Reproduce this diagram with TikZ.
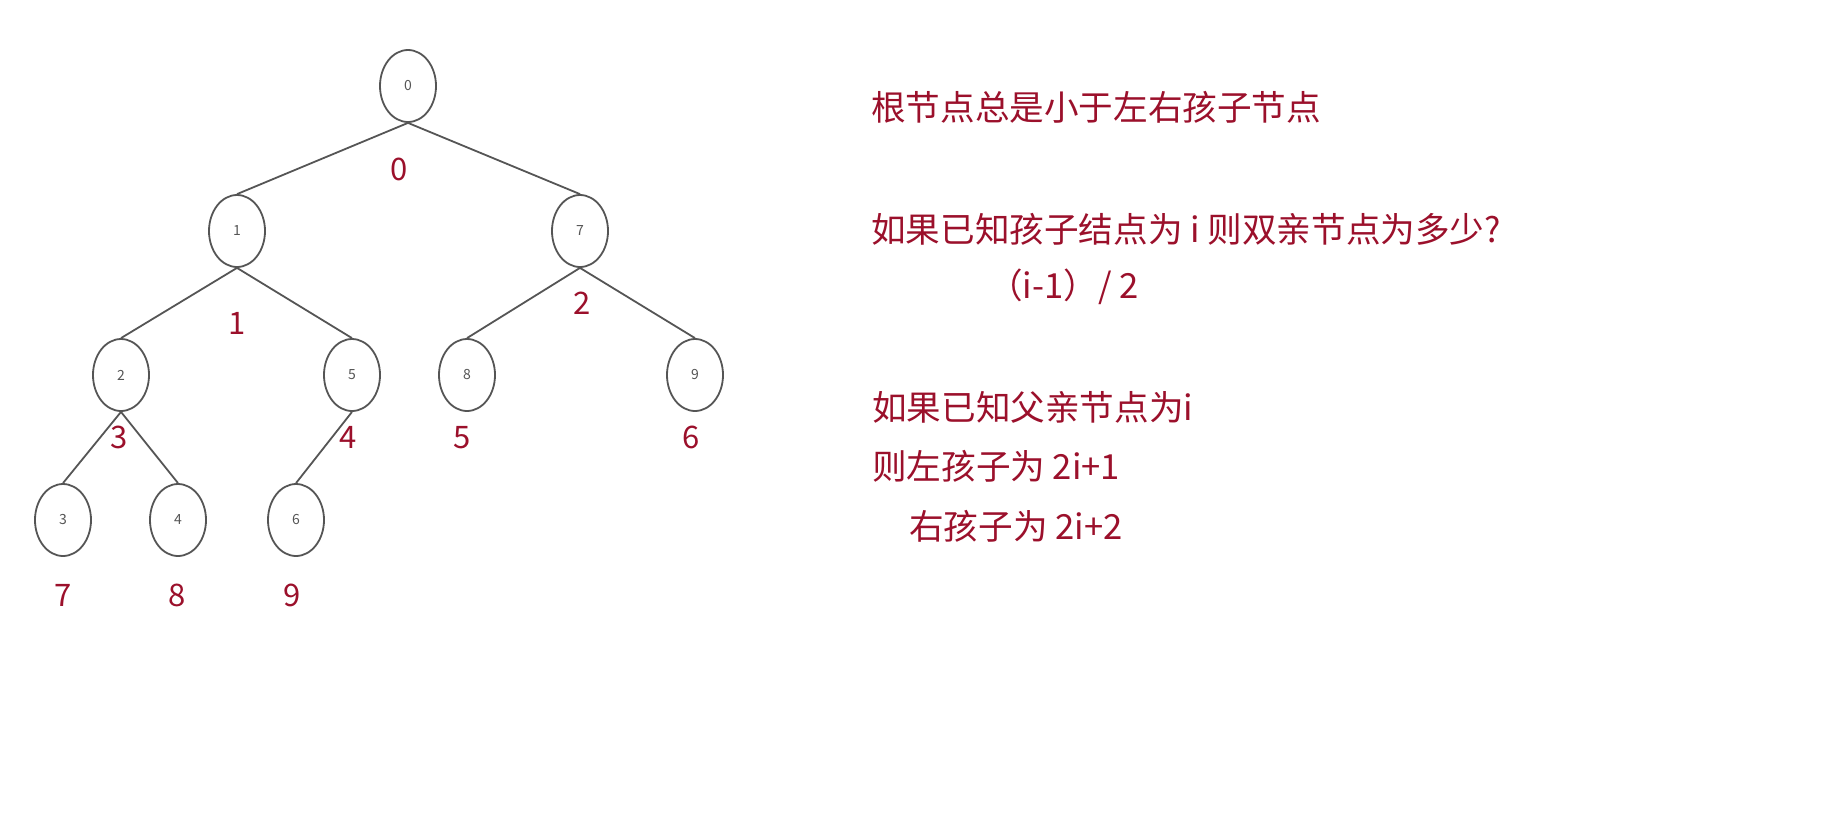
\documentclass[tikz,border=0pt]{standalone}
\usepackage{fontspec}
\setmainfont{Noto Sans CJK SC}
\usetikzlibrary{shapes.geometric}
\definecolor{lab}{HTML}{9B102B}
\definecolor{gr}{HTML}{555555}
\begin{document}
\begin{tikzpicture}[x=1pt,y=-1pt,
  tn/.style={draw=gr, line width=1.8pt, ellipse, minimum width=56pt, minimum height=72pt, inner sep=0pt, font=\fontsize{14}{14}\selectfont, text=gr},
  idx/.style={text=lab, font=\fontsize{31}{31}\selectfont, inner sep=0pt, anchor=base},
  txt/.style={text=lab, font=\fontsize{34.6}{34.6}\selectfont, anchor=base west, inner sep=0pt},
  edge/.style={draw=gr, line width=1.8pt}]
\useasboundingbox (0,0) rectangle (1835,814);
% tree nodes
\node[tn] (n0) at (408,86) {0};
\node[tn] (n1) at (237,231) {1};
\node[tn] (n7) at (580,231) {7};
\node[tn] (n2) at (121,375) {2};
\node[tn] (n5) at (352,375) {5};
\node[tn] (n8) at (467,375) {8};
\node[tn] (n9) at (695,375) {9};
\node[tn] (n3) at (63,520) {3};
\node[tn] (n4) at (178,520) {4};
\node[tn] (n6) at (296,520) {6};
% edges
\draw[edge] (n0.south) -- (n1.north);
\draw[edge] (n0.south) -- (n7.north);
\draw[edge] (n1.south) -- (n2.north);
\draw[edge] (n1.south) -- (n5.north);
\draw[edge] (n7.south) -- (n8.north);
\draw[edge] (n7.south) -- (n9.north);
\draw[edge] (n2.south) -- (n3.north);
\draw[edge] (n2.south) -- (n4.north);
\draw[edge] (n5.south) -- (n6.north);
% index labels
\node[idx] (l0) at (399,180) {0};
\node[idx] (l1) at (237,334) {1};
\node[idx] (l2) at (582,314) {2};
\node[idx] (l3) at (119,448) {3};
\node[idx] (l4) at (348,448) {4};
\node[idx] (l5) at (462,448) {5};
\node[idx] (l6) at (691,448) {6};
\node[idx] (l7) at (63,606) {7};
\node[idx] (l8) at (177,606) {8};
\node[idx] (l9) at (292,606) {9};
% text
\node[txt] (t1) at (871,120) {根节点总是小于左右孩子节点};
\node[txt] (t2) at (871,242) {如果已知孩子结点为 i 则双亲节点为多少?};
\node[txt] (t3) at (988,298) {（i-1）/ 2};
\node[txt] (t4) at (872,420) {如果已知父亲节点为i};
\node[txt] (t5) at (872,479) {则左孩子为 2i+1};
\node[txt] (t6) at (909,539) {右孩子为 2i+2};
\end{tikzpicture}
\end{document}
